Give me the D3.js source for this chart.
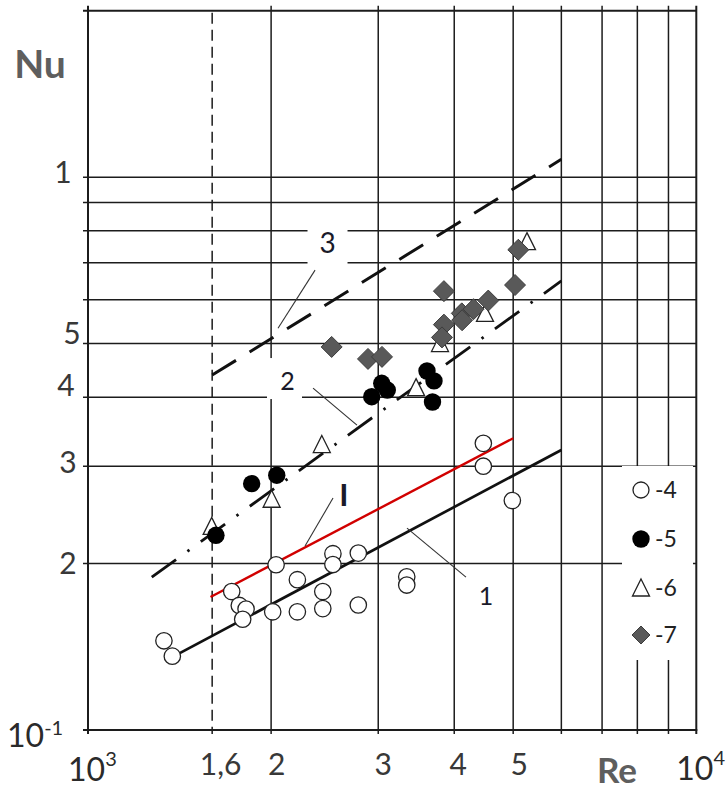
<!DOCTYPE html>
<html><head><meta charset="utf-8">
<script src="https://cdn.jsdelivr.net/npm/d3@7"></script>
<style>html,body{margin:0;padding:0;background:#fff;} svg{display:block;}</style>
</head><body>
<svg id="chart" width="728" height="789"></svg>
<script>
// ---------- data ----------
const reGrid = [2000, 3000, 4000, 5000, 6000, 7000, 8000, 9000];
const reDashed = 1600;
const nuGrid = [0.2, 0.3, 0.4, 0.5, 0.6, 0.7, 0.8, 0.9, 1.0];
const xTickValues = [1600, 2000, 3000, 4000, 5000];
const xTickText = ["1,6", "2", "3", "4", "5"];
const yTickValues = [1, 0.5, 0.4, 0.3, 0.2];
const yTickText = ["1", "5", "4", "3", "2"];

// series 4 (open circles)
const s4Re = [1333, 1376, 1723, 1773, 1819, 1796, 2038, 2012, 2209, 2209, 2432, 2432, 2527, 2527, 2782, 2782, 4466, 4466, 4984, 3342, 3342];
const s4Nu = [0.145, 0.136, 0.178, 0.168, 0.1655, 0.1586, 0.199, 0.1636, 0.187, 0.1636, 0.178, 0.1658, 0.2084, 0.1992, 0.2089, 0.1683, 0.330, 0.300, 0.260, 0.1893, 0.1829];
// series 5 (filled circles)
const s5Re = [1623, 1858, 2043, 2927, 3040, 3105, 3608, 3705, 3684];
const s5Nu = [0.225, 0.279, 0.289, 0.4007, 0.4237, 0.412, 0.446, 0.428, 0.392];
// series 6 (open triangles)
const s6Re = [1597, 2004, 2423, 3462, 3790, 4494, 5268];
const s6Nu = [0.234, 0.262, 0.329, 0.417, 0.501, 0.568, 0.766];
// series 7 (diamonds)
const s7Re = [2515, 2886, 3043, 3847, 3847, 3819, 4116, 4121, 4303, 4550, 5035, 5098];
const s7Nu = [0.493, 0.469, 0.473, 0.622, 0.541, 0.513, 0.567, 0.551, 0.577, 0.598, 0.638, 0.739];

// correlation lines
const line1Re = [1413, 6000], line1Nu = [0.1376, 0.321];
const lineIRe = [1590, 5000], lineINu = [0.174, 0.337];
const line2Re = [1273, 6000], line2Nu = [0.189, 0.649];
const line3Re = [1600, 6000], line3Nu = [0.4385, 1.077];

// annotations: label text, label anchor (Re, Nu), leader from/to (Re, Nu)
const annText = ["3", "2", "I", "1"];
const annRe = [2476, 2128, 2635, 4511];
const annNu = [0.729, 0.412, 0.2542, 0.1683];
const leadRe0 = [2362, 2344, 2528, 3345], leadNu0 = [0.679, 0.4153, 0.2627, 0.2318];
const leadRe1 = [2053, 2768, 2274, 4182], leadNu1 = [0.533, 0.356, 0.2151, 0.189];

const legendText = ["-4", "-5", "-6", "-7"];

// ---------- layout ----------
const svg = d3.select("#chart");
const x = d3.scaleLog().domain([1000, 10000]).range([88, 696.3]);
const y = d3.scaleLog().domain([0.1, 2]).range([730, 10.7]);
const X0 = x(1000), X1 = x(10000), Y0 = y(0.1), Y1 = y(2);
const ink = "#1c1c1c";
const font = "Lato, 'Open Sans', sans-serif";

const g = svg.append("g");

// vertical grid
g.selectAll(".vg").data(reGrid).join("line")
  .attr("x1", d => x(d)).attr("x2", d => x(d))
  .attr("y1", Y1 - 5).attr("y2", Y0 + 4)
  .attr("stroke", ink).attr("stroke-width", 1.5);
// horizontal grid
g.selectAll(".hg").data(nuGrid).join("line")
  .attr("x1", X0 - 5).attr("x2", X1)
  .attr("y1", d => y(d)).attr("y2", d => y(d))
  .attr("stroke", ink).attr("stroke-width", 1.5);
// dashed 1.6 line
g.append("line")
  .attr("x1", x(reDashed)).attr("x2", x(reDashed))
  .attr("y1", Y1 + 2).attr("y2", Y0 + 4)
  .attr("stroke", ink).attr("stroke-width", 1.5).attr("stroke-dasharray", "11,6");
// frame
g.append("line").attr("x1", X0 - 5).attr("x2", X1).attr("y1", Y1).attr("y2", Y1).attr("stroke", ink).attr("stroke-width", 2);
g.append("line").attr("x1", X0 - 5).attr("x2", X1 + 1).attr("y1", Y0).attr("y2", Y0).attr("stroke", ink).attr("stroke-width", 2);
g.append("line").attr("x1", X0).attr("x2", X0).attr("y1", Y1 - 5).attr("y2", Y0 + 4).attr("stroke", ink).attr("stroke-width", 2);
g.append("line").attr("x1", X1).attr("x2", X1).attr("y1", Y1 - 5).attr("y2", Y0 + 4).attr("stroke", ink).attr("stroke-width", 2);

// white boxes behind labels "3" and "2"
const boxes = [{i: 0, dx: -20, dy: -29, w: 40, h: 46}, {i: 1, dx: -20.5, dy: -32, w: 35, h: 41}];
g.selectAll(".wb").data(boxes).join("rect")
  .attr("x", d => x(annRe[d.i]) + d.dx).attr("y", d => y(annNu[d.i]) + d.dy)
  .attr("width", d => d.w).attr("height", d => d.h).attr("fill", "#fff");

// legend box
const lgX = 622, lgY = 466, lgW = 71, lgH = 194;
g.append("rect").attr("x", lgX).attr("y", lgY).attr("width", lgW).attr("height", lgH).attr("fill", "#fff");

// lines
const lineGen = d3.line().x(d => x(d[0])).y(d => y(d[1]));
const zip = (a, b) => a.map((v, i) => [v, b[i]]);
g.append("path").attr("d", lineGen(zip(line1Re, line1Nu))).attr("stroke", "#111").attr("stroke-width", 2.7).attr("fill", "none");
g.append("path").attr("d", lineGen(zip(lineIRe, lineINu))).attr("stroke", "#d10000").attr("stroke-width", 2.4).attr("fill", "none");
g.append("path").attr("d", lineGen(zip(line2Re, line2Nu))).attr("stroke", "#111").attr("stroke-width", 2.8).attr("fill", "none").attr("stroke-dasharray", "30,14,2.5,14");
g.append("path").attr("d", lineGen(zip(line3Re, line3Nu))).attr("stroke", "#111").attr("stroke-width", 3).attr("fill", "none").attr("stroke-dasharray", "28,16");

// leader lines
g.selectAll(".ld").data(annText).join("line")
  .attr("x1", (d, i) => x(leadRe0[i])).attr("y1", (d, i) => y(leadNu0[i]))
  .attr("x2", (d, i) => x(leadRe1[i])).attr("y2", (d, i) => y(leadNu1[i]))
  .attr("stroke", "#333").attr("stroke-width", 1.1);

// markers
const triPath = "M0,-8.5L8.5,8.5L-8.5,8.5Z";
const diaPath = "M0,-10.5L10.5,0L0,10.5L-10.5,0Z";
g.selectAll(".s4").data(zip(s4Re, s4Nu)).join("circle")
  .attr("cx", d => x(d[0])).attr("cy", d => y(d[1])).attr("r", 8.2)
  .attr("fill", "#fff").attr("stroke", "#222").attr("stroke-width", 1.3);
g.selectAll(".s6").data(zip(s6Re, s6Nu)).join("path")
  .attr("d", triPath).attr("transform", d => `translate(${x(d[0])},${y(d[1])})`)
  .attr("fill", "#fff").attr("stroke", "#222").attr("stroke-width", 1.3);
g.selectAll(".s5").data(zip(s5Re, s5Nu)).join("circle")
  .attr("cx", d => x(d[0])).attr("cy", d => y(d[1])).attr("r", 8.7)
  .attr("fill", "#000");
g.selectAll(".s7").data(zip(s7Re, s7Nu)).join("path")
  .attr("d", diaPath).attr("transform", d => `translate(${x(d[0])},${y(d[1])})`)
  .attr("fill", "#595959").attr("stroke", "#3c3c3c").attr("stroke-width", 1);

// legend entries
const lgSymX = 641, lgRowY = [490, 539, 587.5, 635];
const lg = g.append("g");
lg.append("circle").attr("cx", lgSymX).attr("cy", lgRowY[0]).attr("r", 8).attr("fill", "#fff").attr("stroke", "#222").attr("stroke-width", 1.3);
lg.append("circle").attr("cx", lgSymX).attr("cy", lgRowY[1]).attr("r", 8.7).attr("fill", "#000");
lg.append("path").attr("d", triPath).attr("transform", `translate(${lgSymX},${lgRowY[2]})`).attr("fill", "#fff").attr("stroke", "#222").attr("stroke-width", 1.3);
lg.append("path").attr("d", "M0,-9L9,0L0,9L-9,0Z").attr("transform", `translate(${lgSymX},${lgRowY[3]})`).attr("fill", "#595959").attr("stroke", "#3c3c3c");
lg.selectAll("text").data(legendText).join("text")
  .attr("x", 655).attr("y", (d, i) => lgRowY[i] + 8)
  .attr("font-family", font).attr("font-size", 23).attr("fill", "#222").text(d => d);

// annotation labels
const annSize = [28, 25, 31, 25];
const annWeight = ["normal", "normal", "bold", "normal"];
g.selectAll(".an").data(annText).join("text")
  .attr("x", (d, i) => x(annRe[i])).attr("y", (d, i) => y(annNu[i]))
  .attr("text-anchor", "middle").attr("font-family", font)
  .attr("font-size", (d, i) => annSize[i]).attr("font-weight", (d, i) => annWeight[i])
  .attr("fill", "#1a1a2a").text(d => d);

// axis tick labels
const tickCol = "#383838";
const yOff = [{dx: -25, by: 6}, {dx: -16, by: 0}, {dx: -22, by: -1}, {dx: -20, by: 7}, {dx: -20, by: 10}];
g.selectAll(".yl").data(yTickText).join("text")
  .attr("x", (d, i) => X0 + yOff[i].dx).attr("y", (d, i) => y(yTickValues[i]) + yOff[i].by)
  .attr("text-anchor", "middle").attr("font-family", font).attr("font-size", 30)
  .attr("fill", tickCol).text(d => d);
const xOff = [8.5, 5.5, 5, 4, 6];
g.selectAll(".xl").data(xTickText).join("text")
  .attr("x", (d, i) => x(xTickValues[i]) + xOff[i]).attr("y", 775)
  .attr("text-anchor", "middle").attr("font-family", font).attr("font-size", 30)
  .attr("fill", tickCol).text(d => d);

// power-of-ten labels
function pow10(px, py, exp, supDy) {
  const t = g.append("text").attr("x", px).attr("y", py)
    .attr("font-family", font).attr("font-size", 32).attr("fill", "#2a2a2a");
  t.append("tspan").text("10");
  t.append("tspan").attr("font-size", 20).attr("dy", supDy).text(exp);
}
pow10(X0 - 81, Y0 + 17, "-1", -12);
pow10(X0 - 20, 781, "3", -15);
pow10(X1 - 20, 780, "4", -15);

// axis titles
g.append("text").attr("x", 40).attr("y", 78).attr("text-anchor", "middle")
  .attr("font-family", font).attr("font-weight", "bold").attr("font-size", 39)
  .attr("fill", "#5e5e5e").text("Nu");
g.append("text").attr("x", 617).attr("y", 783).attr("text-anchor", "middle")
  .attr("font-family", font).attr("font-weight", "bold").attr("font-size", 35)
  .attr("fill", "#5e5e5e").text("Re");
</script>
</body></html>
